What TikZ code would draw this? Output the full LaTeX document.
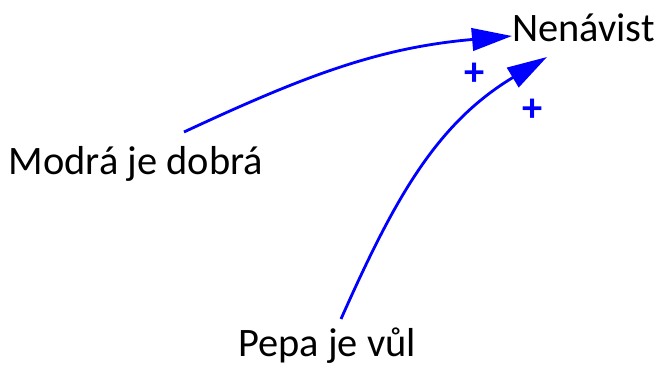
\documentclass[tikz,border=0pt]{standalone}
\usepackage{fontspec}
\setmainfont{Carlito}
\usepackage{tikz}
\usetikzlibrary{arrows.meta}

\tikzset{
  factor/.style={inner sep=0pt,font=\fontsize{23}{27}\selectfont},
  sign/.style={inner sep=0pt,text=blue,font=\fontsize{23}{27}\selectfont\bfseries},
  link/.style={draw=blue,line width=1.6pt,-{Triangle[length=0.8cm,width=0.45cm,fill=blue]}}
}

\begin{document}
\begin{tikzpicture}[scale=1.0]
 \useasboundingbox (0,0) rectangle (13.18,7.3);
 \node[factor,anchor=base] (hate) at (11.67,6.46) {Nenávist};
 \node[factor,anchor=base] (blue) at (2.72,3.80) {Modrá je dobrá};
 \node[factor,anchor=base] (pepa) at (6.54,0.16) {Pepa je vůl};
 % arrows into Nenavist
 \draw[link] ([shift={(0.96,0.86)}]blue.base) to[out=25,in=185] ([shift={(-1.43,0.12)}]hate.base);
 \draw[link] ([shift={(0.28,0.76)}]pepa.base) to[out=66,in=211] ([shift={(-0.73,-0.30)}]hate.base);
 \node[sign] (signA) at (9.50,5.82) {+};
 \node[sign] (signB) at (10.66,5.10) {+};
\end{tikzpicture}
\end{document}
